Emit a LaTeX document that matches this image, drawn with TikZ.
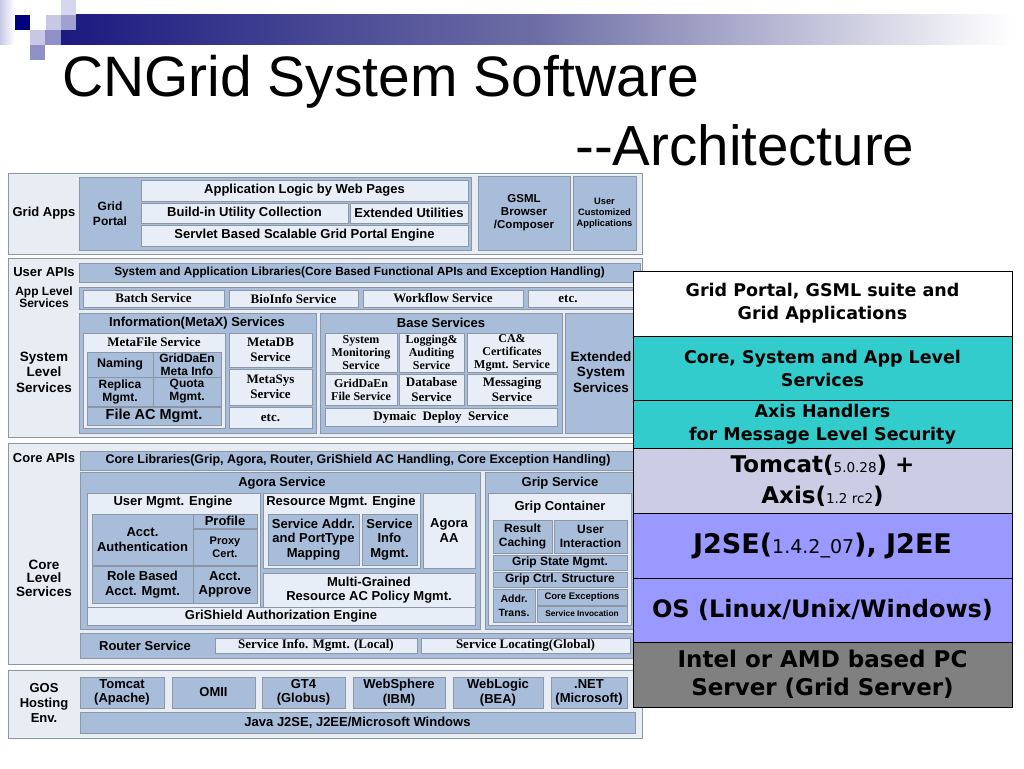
\documentclass[tikz,border=0pt]{standalone}
\usepackage{fontspec}
\setmainfont{Liberation Sans}
\newfontfamily\tnr{Liberation Serif}
\newfontfamily\vd{DejaVu Sans}
\definecolor{panelbg}{HTML}{E8EDF4}
\definecolor{midb}{HTML}{A8BDDA}
\definecolor{lightb}{HTML}{E8EEF7}
\definecolor{bord}{HTML}{8C96A4}
\definecolor{cteal}{HTML}{33CCCC}
\definecolor{clav}{HTML}{CCCCE5}
\definecolor{cperi}{HTML}{9999FF}
\definecolor{cgray}{HTML}{808080}
\definecolor{navyd}{HTML}{1A1A80}
\definecolor{navym}{HTML}{6E6EA6}
\definecolor{sqnavy}{HTML}{000080}
\definecolor{sqlight}{HTML}{C8C8E4}
\definecolor{sqmid}{HTML}{9090C8}
\definecolor{sqtop}{HTML}{D6D6EC}
\newcommand\af[2]{\fontsize{#1}{#2}\selectfont\bfseries}
\newcommand\sm[2]{{\fontsize{#1}{#1}\selectfont\mdseries #2}}
\newcommand\bx[7]{\node[#2, minimum width=#5pt-#3pt, minimum height=#6pt-#4pt, anchor=north west] (#1) at (#3,#4) {#7};}
\tikzset{
  base/.style={inner sep=0pt, outer sep=0pt, align=center, text=black},
  panel/.style={base, draw=bord, fill=panelbg, line width=0.8pt},
  mb/.style={base, draw=bord, fill=midb, line width=0.8pt, font={\af{13}{14.5}}},
  lb/.style={base, draw=bord, fill=lightb, line width=0.8pt, font={\af{13}{14.5}}},
  lt/.style={lb, font={\tnr\af{13}{15}}},
  lts/.style={lb, font={\tnr\af{12}{13}}},
  lab/.style={base, font={\af{13}{15}}},
  rs/.style={base, draw=black, line width=1pt, font={\vd\af{17.5}{23}}}
}
\begin{document}
\begin{tikzpicture}[x=1pt,y=-1pt]
\useasboundingbox (0,0) rectangle (1024,768);
\fill[white] (0,0) rectangle (1024,768);
% decoration
\shade[left color=navyd, right color=white, middle color=navym] (61,15) rectangle (1012,45);
\shade[left color=sqlight, right color=white] (0,0) rectangle (14,45);
\fill[sqnavy] (15,15) rectangle (30,30);
\fill[sqlight] (30,30) rectangle (45,45);
\fill[sqmid] (45,30) rectangle (61,45);
\fill[sqlight] (46,15) rectangle (61,30);
\fill[sqmid!85!white] (61,15) rectangle (76,30);
\fill[sqtop] (61,0) rectangle (76,15);
\fill[sqmid] (30,45) rectangle (45,60);
% title
\node[anchor=base west, inner sep=0pt, font=\fontsize{57}{60}\selectfont] (title1) at (62,96) {CNGrid System Software};
\node[anchor=base west, inner sep=0pt, font=\fontsize{56.5}{60}\selectfont] (title2) at (575,165) {-{}-Architecture};
% ===== Grid Apps
\bx{pA}{panel}{8}{173}{642}{254}{}
\node[lab] (lGA) at (44,213) {Grid Apps};
\bx{gp}{mb}{79}{177}{471}{250}{}
\node[lab, font={\af{12}{15.5}}] (gpt) at (110,213.5) {Grid\\Portal};
\bx{al}{lb}{141}{180}{468}{201}{Application Logic by Web Pages}
\bx{bu}{lb}{141}{203}{348}{223}{Build-in Utility Collection}
\bx{eu}{lb}{350}{203}{468}{223}{Extended Utilities}
\bx{sb}{lb}{141}{225}{468}{246}{Servlet Based Scalable Grid Portal Engine}
\bx{gs}{mb, font={\af{11.5}{13}}}{478}{176}{570}{250}{GSML\\Browser\\/Composer}
\bx{uc}{mb, font={\af{9.3}{11}}}{573}{176}{636}{250}{User\\Customized\\Applications}
% ===== User APIs / System level
\bx{pB}{panel}{8}{258}{642}{437}{}
\node[lab] (lUA) at (44,272) {User APIs};
\node[lab, font={\af{12}{12}}] (lAL) at (44,297) {App Level\\Services};
\node[lab, font={\af{13.5}{15.5}}] (lSL) at (44,372) {System\\Level\\Services};
\bx{ua}{mb, font={\af{11.8}{13}}}{79}{263}{640}{282}{System and Application Libraries(Core Based Functional APIs and Exception Handling)}
\bx{alr}{mb}{79}{287}{640}{309}{}
\bx{bat}{lt}{83}{290}{224}{307}{Batch Service}
\bx{bio}{lt}{229}{290}{358}{307}{BioInfo Service}
\bx{wf}{lt}{363}{290}{523}{307}{Workflow Service}
\bx{etc1}{lt}{528}{290}{636}{307}{}
\node[base, font={\tnr\af{13}{15}}] (etc1t) at (568,298.5) {etc.};
% Information services
\bx{inf}{mb}{79}{313}{316}{433}{}
\node[lab] (inft) at (197,323) {Information(MetaX) Services};
\bx{mf}{lb}{83}{333}{225}{428}{}
\node[base, font={\tnr\af{13}{15}}] (mft) at (154,342) {MetaFile Service};
\bx{nam}{mb, font={\af{12.5}{13}}}{87}{352}{153}{377}{Naming}
\bx{gdm}{mb, font={\af{12}{13}}}{153}{352}{221}{377}{GridDaEn\\Meta Info}
\bx{rep}{mb, font={\af{12}{13}}}{87}{377}{153}{406}{Replica\\Mgmt.}
\bx{quo}{mb, font={\af{12}{13}}}{153}{377}{221}{406}{Quota\\Mgmt.}
\bx{fac}{mb, font={\af{14.5}{15}}}{87}{407}{221}{425}{File AC Mgmt.}
\bx{mdb}{lt}{229}{333}{312}{367}{MetaDB\\Service}
\bx{msy}{lt}{229}{369}{312}{405}{MetaSys\\Service}
\bx{etc2}{lt}{229}{407}{312}{428}{etc.}
% Base services
\bx{bas}{mb}{320}{313}{562}{433}{}
\node[lab] (bast) at (441,323) {Base Services};
\bx{smo}{lts}{325}{333}{397}{372}{System\\Monitoring\\Service}
\bx{log}{lts}{399}{333}{464}{372}{Logging\&\\Auditing\\Service}
\bx{ca}{lts}{467}{333}{557}{372}{CA\&\\Certificates\\Mgmt. Service}
\bx{gdf}{lts}{325}{374}{397}{405}{GridDaEn\\File Service}
\bx{dbs}{lt}{399}{374}{464}{405}{Database\\Service}
\bx{msg}{lt}{467}{374}{557}{405}{Messaging\\Service}
\bx{dds}{lt}{325}{408}{557}{426}{Dymaic\ \ Deploy\ \ Service}
\bx{ext}{mb}{565}{313}{640}{433}{}
\node[lab, font={\af{13.5}{15.5}}] (extt) at (601,372) {Extended\\System\\Services};
% ===== Core
\bx{pC}{panel}{8}{443}{642}{664}{}
\node[lab] (lCA) at (44,458) {Core APIs};
\node[lab, font={\af{13.5}{13.5}}] (lCL) at (44,578) {Core\\Level\\Services};
\bx{cl}{mb, font={\af{12.5}{13}}}{80}{451}{636}{470}{Core Libraries(Grip, Agora, Router, GriShield AC Handling, Core Exception Handling)}
\bx{ag}{mb}{80}{472}{480}{629}{}
\node[lab] (agt) at (282,483) {Agora Service};
\bx{ume}{lb}{87}{493}{260}{607}{}
\node[lab] (umet) at (173,502) {User Mgmt. Engine};
\bx{aa}{mb}{92}{514}{193}{565}{Acct.\\Authentication}
\bx{pro}{mb}{193}{514}{257}{528}{Profile}
\bx{pc}{mb, font={\af{11}{13}}}{193}{529}{257}{565}{Proxy\\Cert.}
\bx{rb}{mb}{92}{566}{193}{603}{Role Based\\Acct. Mgmt.}
\bx{ap}{mb}{193}{566}{257}{603}{Acct.\\Approve}
\bx{rme}{lb}{263}{493}{420}{568}{}
\node[lab] (rmet) at (341,502) {Resource Mgmt. Engine};
\bx{sa}{mb}{268}{514}{359}{565}{Service Addr.\\and PortType\\Mapping}
\bx{sim}{mb}{362}{514}{417}{565}{Service\\Info\\Mgmt.}
\bx{aaa}{lb}{423}{493}{475}{568}{Agora\\AA}
\bx{mg}{lb}{263}{573}{475}{607}{Multi-Grained\\Resource AC Policy Mgmt.}
\bx{gae}{lb}{87}{607}{475}{625}{GriShield Authorization Engine}
\bx{grs}{mb}{485}{472}{636}{629}{}
\node[lab] (grst) at (560,483) {Grip Service};
\bx{gc}{lb}{488}{493}{631}{625}{}
\node[lab] (gct) at (560,507) {Grip Container};
\bx{rc}{mb, font={\af{12}{13.5}}}{493}{520}{552}{553}{Result\\Caching}
\bx{ui}{mb, font={\af{12}{13.5}}}{554}{520}{627}{553}{User\\Interaction}
\bx{gsm}{mb, font={\af{12}{13}}}{493}{555}{627}{570}{Grip State Mgmt.}
\bx{gcs}{mb, font={\af{12}{13}}}{493}{572}{627}{587}{Grip Ctrl. Structure}
\bx{adt}{mb, font={\af{10.5}{13.5}}}{493}{589}{535}{622}{Addr.\\Trans.}
\bx{cex}{mb, font={\af{9.5}{11}}}{537}{589}{627}{605}{Core Exceptions}
\bx{sin}{mb, font={\af{8.3}{10}}}{537}{606}{627}{622}{Service Invocation}
\bx{rt}{mb}{80}{633}{636}{658}{}
\node[lab] (rtt) at (145,645.5) {Router Service};
\bx{sil}{lt}{215}{638}{417}{653}{Service Info. Mgmt. (Local)}
\bx{slg}{lt}{421}{638}{630}{653}{Service Locating(Global)}
% ===== GOS
\bx{pD}{panel}{8}{670}{642}{738}{}
\node[lab] (lG) at (44,703) {GOS\\Hosting\\Env.};
\bx{tc}{mb}{80}{677}{164}{708}{Tomcat\\(Apache)}
\bx{om}{mb}{172}{677}{255}{708}{OMII}
\bx{gt}{mb}{262}{677}{345}{708}{GT4\\(Globus)}
\bx{ws}{mb}{353}{677}{445}{708}{WebSphere\\(IBM)}
\bx{wl}{mb}{453}{677}{543}{708}{WebLogic\\(BEA)}
\bx{net}{mb}{551}{677}{627}{708}{.NET\\(Microsoft)}
\bx{jv}{mb}{80}{712}{635}{733}{Java J2SE, J2EE/Microsoft Windows}
% ===== right stack
\bx{r1}{rs, fill=white}{633}{271}{1012}{336}{Grid Portal, GSML suite and\\Grid Applications}
\bx{r2}{rs, fill=cteal}{633}{336}{1012}{400}{Core, System and App Level\\Services}
\bx{r3}{rs, fill=cteal}{633}{400}{1012}{448}{Axis Handlers\\for Message Level Security}
\bx{r4}{rs, fill=clav, font={\vd\af{23}{31}}}{633}{448}{1012}{513}{Tomcat(\sm{13.5}{5.0.28}) +\\Axis(\sm{13.5}{1.2 rc2})}
\bx{r5}{rs, fill=cperi, font={\vd\af{27}{32}}}{633}{513}{1012}{578}{J2SE(\sm{19}{1.4.2\_07}), J2EE}
\bx{r6}{rs, fill=cperi, font={\vd\af{24}{30}}}{633}{578}{1012}{642}{OS (Linux/Unix/Windows)}
\bx{r7}{rs, fill=cgray, font={\vd\af{23}{28}}}{633}{642}{1012}{707}{Intel or AMD based PC\\Server (Grid Server)}
\end{tikzpicture}
\end{document}
